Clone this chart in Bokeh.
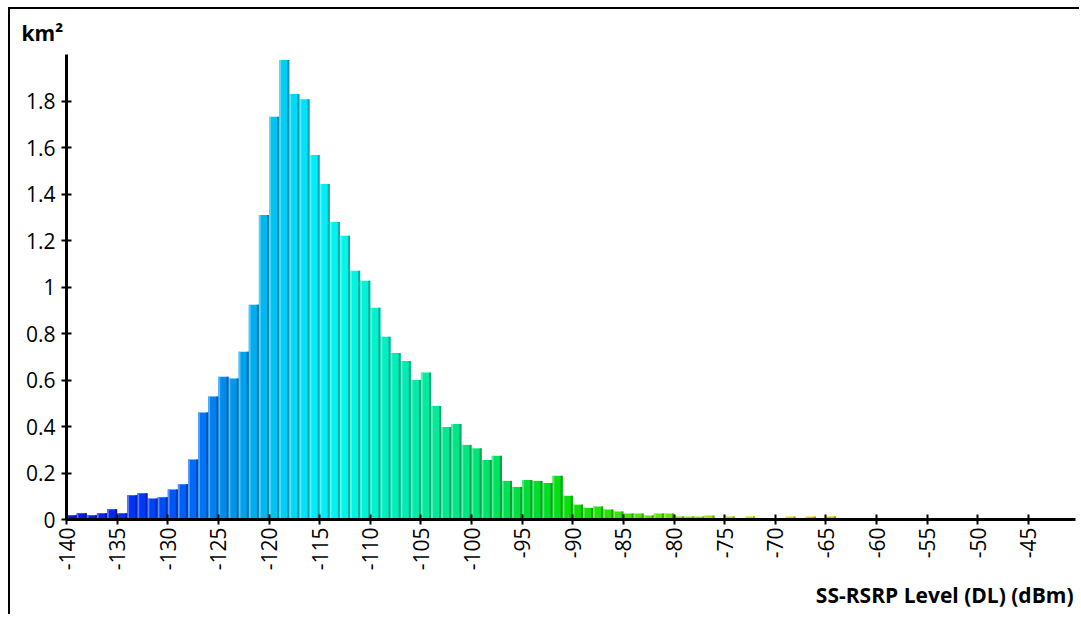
import math
from bokeh.plotting import figure
from bokeh.models import FixedTicker, CustomJSTickFormatter, Title, Range1d, ColumnDataSource
from bokeh.embed import file_html
from bokeh.resources import INLINE

# ---- data -------------------------------------------------------------
bins = list(range(-140, -64))          # bin start (dBm), bin width 1 dBm
area_km2 = [
    0.018, 0.027, 0.018, 0.027, 0.044, 0.027, 0.104, 0.113, 0.090, 0.096,   # -140..-131
    0.129, 0.152, 0.258, 0.460, 0.529, 0.614, 0.606, 0.722, 0.924, 1.310,   # -130..-121
    1.732, 1.976, 1.830, 1.807, 1.568, 1.443, 1.280, 1.220, 1.070, 1.027,   # -120..-111
    0.911, 0.786, 0.716, 0.682, 0.600, 0.632, 0.488, 0.398, 0.411, 0.321,   # -110..-101
    0.306, 0.256, 0.274, 0.166, 0.140, 0.170, 0.166, 0.157, 0.188, 0.102,   # -100..-91
    0.064, 0.050, 0.056, 0.043, 0.034, 0.026, 0.026, 0.017, 0.026, 0.026,   # -90..-81
    0.013, 0.013, 0.013, 0.017, 0.0, 0.013, 0.0, 0.013, 0.0, 0.0,           # -80..-71
    0.0, 0.013, 0.0, 0.013, 0.0, 0.013,                                     # -70..-65
]
x_ticks = list(range(-140, -44, 5))
y_ticks = [0, 0.2, 0.4, 0.6, 0.8, 1.0, 1.2, 1.4, 1.6, 1.8]
x_title = "SS-RSRP Level (DL) (dBm)"
y_title = "km²"

# ---- colour ramp (style) ---------------------------------------------
stops = [(-140, (10, 20, 232)), (-133, (0, 55, 248)), (-128, (0, 105, 248)),
         (-124, (0, 150, 236)), (-120, (0, 196, 242)), (-116, (0, 236, 252)),
         (-113, (0, 246, 232)), (-108, (0, 238, 186)), (-100, (0, 228, 118)),
         (-94, (0, 220, 45)), (-90, (12, 224, 0)), (-84, (70, 232, 0)),
         (-78, (150, 226, 0)), (-70, (230, 226, 0)), (-65, (228, 186, 0))]

def ramp(v):
    for (a, ca), (b, cb) in zip(stops, stops[1:]):
        if a <= v <= b:
            t = (v - a) / (b - a)
            return tuple(ca[i] + (cb[i] - ca[i]) * t for i in range(3))
    return stops[-1][1]

def hexc(c):
    return "#%02x%02x%02x" % tuple(int(max(0, min(255, round(x)))) for x in c)

def mix(c, m, t):
    return tuple(c[i] + (m[i] - c[i]) * t for i in range(3))

L, R, T, C, CL, CD = [], [], [], [], [], []
for b, a in zip(bins, area_km2):
    if a <= 0:
        continue
    c = ramp(b)
    L.append(b); R.append(b + 1); T.append(a)
    C.append(hexc(c))
    CL.append(hexc(mix(c, (255, 255, 255), 0.35)))
    CD.append(hexc(mix(c, (0, 0, 0), 0.28)))

src = ColumnDataSource(dict(left=L, right=R, top=T, color=C, light=CL, dark=CD,
                            lstrip=[l + 0.18 for l in L], rstrip=[r - 0.2 for r in R]))

# ---- figure -------------------------------------------------------------
p = figure(width=1071, height=607, output_backend="svg", toolbar_location=None,
           x_range=Range1d(-140, -40.35), y_range=Range1d(0, 2.0),
           min_border_left=56, min_border_right=6, min_border_top=45, min_border_bottom=97)
p.styles = {"margin-left": "8px", "margin-top": "7px",
            "border-top": "2px solid #000", "border-left": "2px solid #000"}
p.outline_line_color = None
p.grid.visible = False
p.background_fill_color = "white"
p.border_fill_color = "white"

p.quad(left="left", right="right", bottom=0, top="top", fill_color="color",
       line_color=None, source=src)
p.quad(left="left", right="lstrip", bottom=0, top="top", fill_color="light",
       line_color=None, source=src)
p.quad(left="rstrip", right="right", bottom=0, top="top", fill_color="dark",
       line_color=None, source=src)

FONT = "Open Sans"
FS = "21px"
for ax in (p.xaxis[0], p.yaxis[0]):
    ax.axis_line_width = 3
    ax.axis_line_color = "black"
    ax.major_tick_line_width = 2
    ax.major_tick_line_color = "black"
    ax.major_tick_in = 5
    ax.major_tick_out = 5
    ax.minor_tick_line_color = None
    ax.major_label_text_font = FONT
    ax.major_label_text_font_size = FS
    ax.major_label_text_color = "black"

p.xaxis.ticker = FixedTicker(ticks=x_ticks)
p.xaxis.formatter = CustomJSTickFormatter(code="return String(tick);")
p.xaxis.major_label_orientation = math.pi / 2
p.xaxis.major_label_standoff = 3
p.yaxis.ticker = FixedTicker(ticks=y_ticks)
p.yaxis.formatter = CustomJSTickFormatter(code="return String(Math.round(tick*10)/10);")
p.yaxis.major_label_standoff = 6

p.title.text = y_title
p.title.text_font = FONT
p.title.text_font_size = FS
p.title.text_font_style = "bold"
p.title.text_color = "black"
p.title.align = "left"
p.title.offset = -45
p.title.standoff = 15

xt = Title(text=x_title, align="right", text_font=FONT, text_font_size=FS,
           text_font_style="bold", text_color="black", offset=2, standoff=11)
p.add_layout(xt, "below")

open("out.html", "w").write(file_html(p, INLINE))
